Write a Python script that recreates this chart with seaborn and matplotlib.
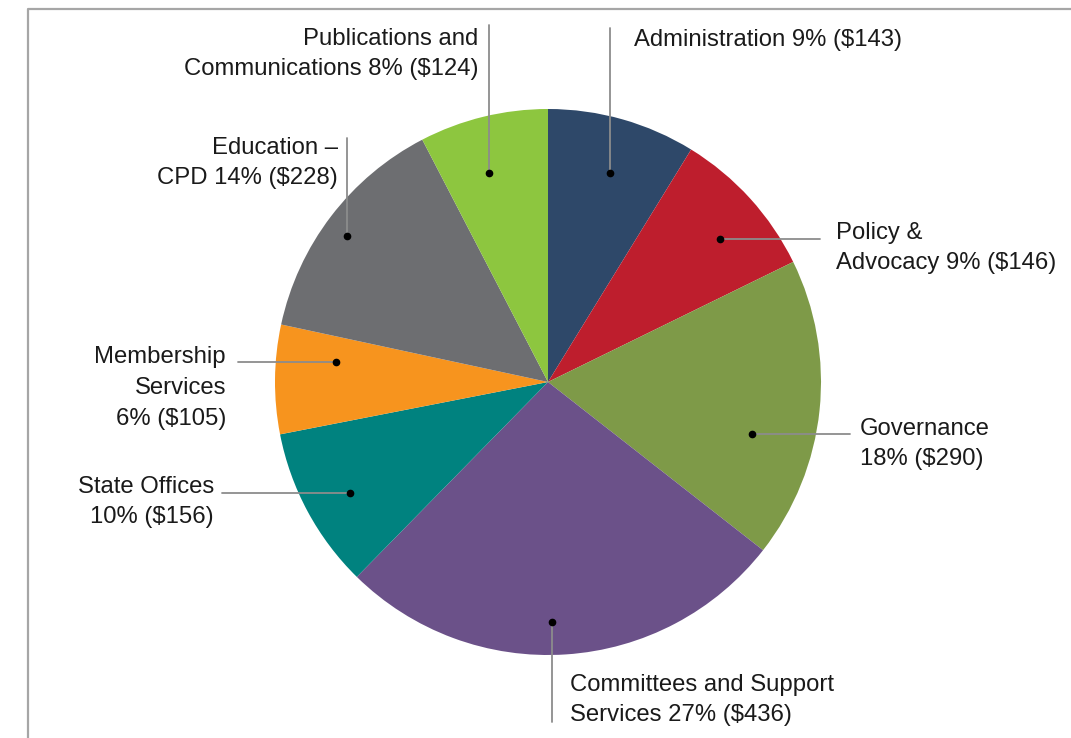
import numpy as np
import matplotlib
matplotlib.use("Agg")
import matplotlib.pyplot as plt
import seaborn as sns

# ---- data ----
categories = ["Administration", "Policy & Advocacy", "Governance",
              "Committees and Support Services", "State Offices",
              "Membership Services", "Education \u2013 CPD",
              "Publications and Communications"]
values = [143, 146, 290, 436, 156, 105, 228, 124]
percents = [9, 9, 18, 27, 10, 6, 14, 8]
label_texts = [
    "Administration 9% ($143)",
    "Policy &\nAdvocacy 9% ($146)",
    "Governance\n18% ($290)",
    "Committees and Support\nServices 27% ($436)",
    "State Offices\n10% ($156)",
    "Membership\nServices\n6% ($105)",
    "Education \u2013\nCPD 14% ($228)",
    "Publications and\nCommunications 8% ($124)",
]
colors = ["#2E4869", "#BE1E2D", "#7E9A48", "#6B5189",
          "#00827F", "#F7941E", "#6D6E71", "#8DC63F"]

# ---- layout (image pixel coordinates, y downward) ----
W, H = 1071, 738
CX, CY, R = 548, 382, 273
# dot placement inside each wedge: fraction along wedge angle, fraction of radius
dot_frac = [0.52, 0.58, 0.63, 0.53, 0.47, 0.71, 0.47, 0.42]
dot_rad = [0.80, 0.82, 0.77, 0.88, 0.83, 0.78, 0.91, 0.795]
# leader: ('v', end_y) vertical, ('h', end_x) horizontal
leaders = [("v", 28), ("h", 820), ("h", 850), ("v", 722),
           ("h", 222), ("h", 238), ("v", 138), ("v", 25)]
# label anchor (x, y center of block), horizontal alignment
label_pos = [(634, 40, "left"), (836, 248, "left"), (860, 444, "left"),
             (570, 700, "left"), (214, 502, "right"), (226, 388, "right"),
             (338, 163, "right"), (478, 54, "right")]

sns.set_theme(style="white")
plt.rcParams["font.family"] = ["Liberation Sans", "DejaVu Sans"]

fig = plt.figure(figsize=(W / 100, H / 100), dpi=100)
ax = fig.add_axes([0, 0, 1, 1])

def fy(y):
    return H - y

ax.pie(values, colors=colors, startangle=90, counterclock=False,
       center=(CX, fy(CY)), radius=R, wedgeprops=dict(linewidth=0))
ax.set_xlim(0, W)
ax.set_ylim(0, H)
ax.set_aspect("equal")
ax.axis("off")

total = float(sum(values))
cum = np.concatenate([[0], np.cumsum(values)]) / total * 360.0
for i, txt in enumerate(label_texts):
    th = cum[i] + dot_frac[i] * (cum[i + 1] - cum[i])
    phi = np.deg2rad(90 - th)
    dx = CX + dot_rad[i] * R * np.cos(phi)
    dy = fy(CY) + dot_rad[i] * R * np.sin(phi)
    kind, end = leaders[i]
    if kind == "v":
        ax.plot([dx, dx], [dy, fy(end)], color="#8C8C8C", lw=1.3, zorder=3)
    else:
        ax.plot([dx, end], [dy, dy], color="#8C8C8C", lw=1.3, zorder=3)
    ax.plot([dx], [dy], "o", color="black", ms=4.5, zorder=4)
    lx, ly, ha = label_pos[i]
    ax.text(lx, fy(ly), txt, ha=ha, va="center", multialignment=ha,
            fontsize=17.2, color="#1A1A1A", linespacing=1.5)

# frame (cropped at right and bottom)
ax.plot([28, 28, W + 5], [-5, fy(9), fy(9)], color="#A6A6A6", lw=1.6,
        clip_on=False)

fig.savefig("out.png", dpi=100, facecolor="white")
